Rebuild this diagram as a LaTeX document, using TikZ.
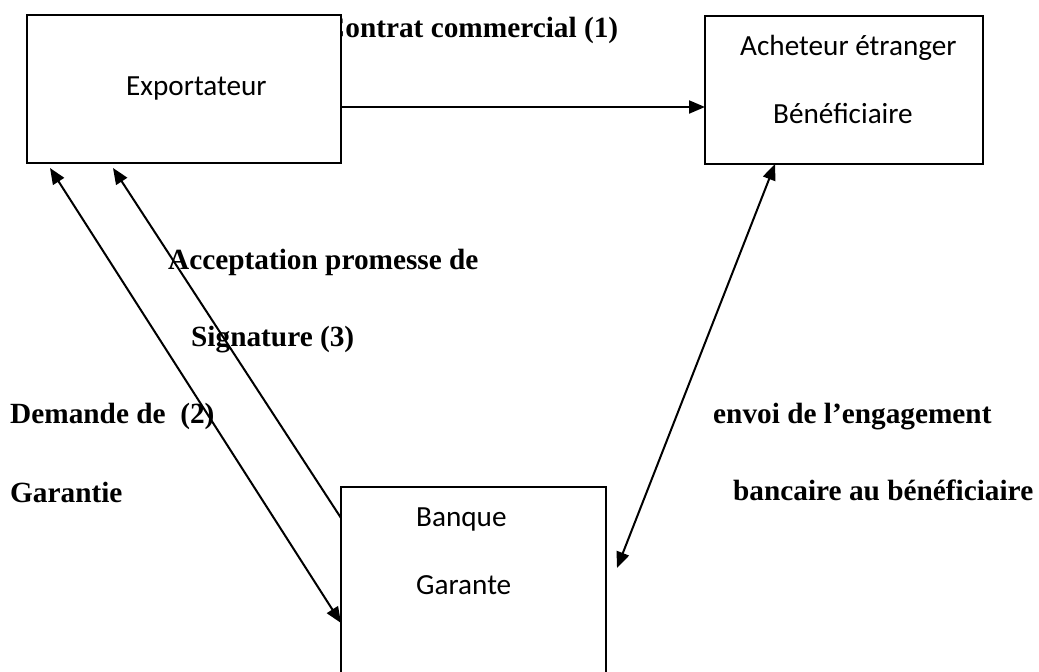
\documentclass[tikz,border=0pt]{standalone}
\usepackage{fontspec}
\setmainfont{Liberation Serif}
\newfontfamily\calibfont{Carlito}
\usetikzlibrary{arrows.meta}
\tikzset{
  box/.style={draw=black, line width=1.9pt, fill=white, rectangle, inner sep=0pt, outer sep=0pt},
  boxtxt/.style={anchor=base west, inner sep=0pt, font=\calibfont\fontsize{29.2}{34}\selectfont},
  lbl/.style={anchor=base west, inner sep=0pt, font=\bfseries\fontsize{29.3}{35}\selectfont},
  arr/.style={line width=2pt, -{Triangle[length=16pt,width=13pt]}},
  darr/.style={line width=2pt, {Triangle[length=16pt,width=13pt]}-{Triangle[length=16pt,width=13pt]}}
}
\begin{document}
\begin{tikzpicture}[x=1pt,y=-1pt]
\useasboundingbox (0,0) rectangle (1039,672);
\fill[white] (0,0) rectangle (1039,672);
% label under the box (its C is partly hidden)
\node[lbl] (l1) at (324,37) {Contrat commercial (1)};
% boxes
\node[box, minimum width=314pt, minimum height=148pt] (exp) at (184,89) {};
\node[box, minimum width=278pt, minimum height=148pt] (ach) at (844,90) {};
\node[box, minimum width=265pt, minimum height=230pt] (ban) at (473.5,602) {};
% box texts
\node[boxtxt] (t1) at (126,95) {Exportateur};
\node[boxtxt] (t2) at (740,55) {Acheteur étranger};
\node[boxtxt] (t3) at (773,123) {Bénéficiaire};
\node[boxtxt] (t4) at (416,526) {Banque};
\node[boxtxt] (t5) at (416,594) {Garante};
% labels
\node[lbl] (l2) at (168,269) {Acceptation promesse de};
\node[lbl] (l3) at (191,346) {Signature (3)};
\node[lbl] (l4) at (10,423) {Demande de\ \ (2)};
\node[lbl] (l5) at (10,502) {Garantie};
\node[lbl] (l6) at (713,423) {envoi de l’engagement};
\node[lbl] (l7) at (733,500) {bancaire au bénéficiaire};
% connectors
\draw[arr] ([yshift=-18pt]exp.east) -- ([yshift=-17pt]ach.west);
\draw[darr] ([xshift=23pt,yshift=-5pt]exp.south west) -- ([yshift=-136pt]ban.north west);
\draw[arr] ([yshift=-31pt]ban.north west) -- ([xshift=86pt,yshift=-5pt]exp.south west);
\draw[darr] ([xshift=70pt]ach.south west) -- ([xshift=11pt,yshift=-81pt]ban.north east);
\end{tikzpicture}
\end{document}
